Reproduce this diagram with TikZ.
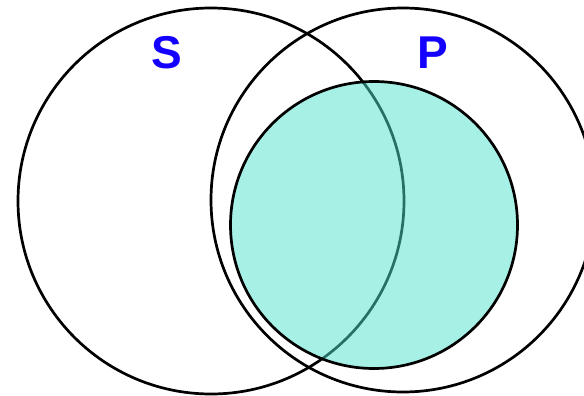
\documentclass[tikz,border=0pt]{standalone}
\usepackage{fontspec}
\setmainfont{Liberation Sans}
\usepackage{tikz}
\definecolor{setfill}{RGB}{77,225,205}
\definecolor{setlabel}{RGB}{20,0,255}

\begin{document}
\begin{tikzpicture}[x=1pt, y=-1pt,
        setcircle/.style={circle, draw, line width=2.7pt, inner sep=0pt},
        setname/.style={anchor=base, text=setlabel, font=\fontsize{46}{46}\selectfont\bfseries}]
        \useasboundingbox (0,0) rectangle (584,396);

        % Insieme S
        \node[setcircle, minimum size=386pt] (S) at (211,201) {};

        % Insieme P
        \node[setcircle, minimum size=384pt] (P) at (403,200) {};

        % Regione ombreggiata (dentro P)
        \node[setcircle, minimum size=287pt, fill=setfill, fill opacity=0.5, draw opacity=1] (M) at (374,225) {};

        % Etichette
        \node[setname] (labelS) at (166.5,68.5) {S};
        \node[setname] (labelP) at (433,69) {P};
    \end{tikzpicture}
\end{document}
